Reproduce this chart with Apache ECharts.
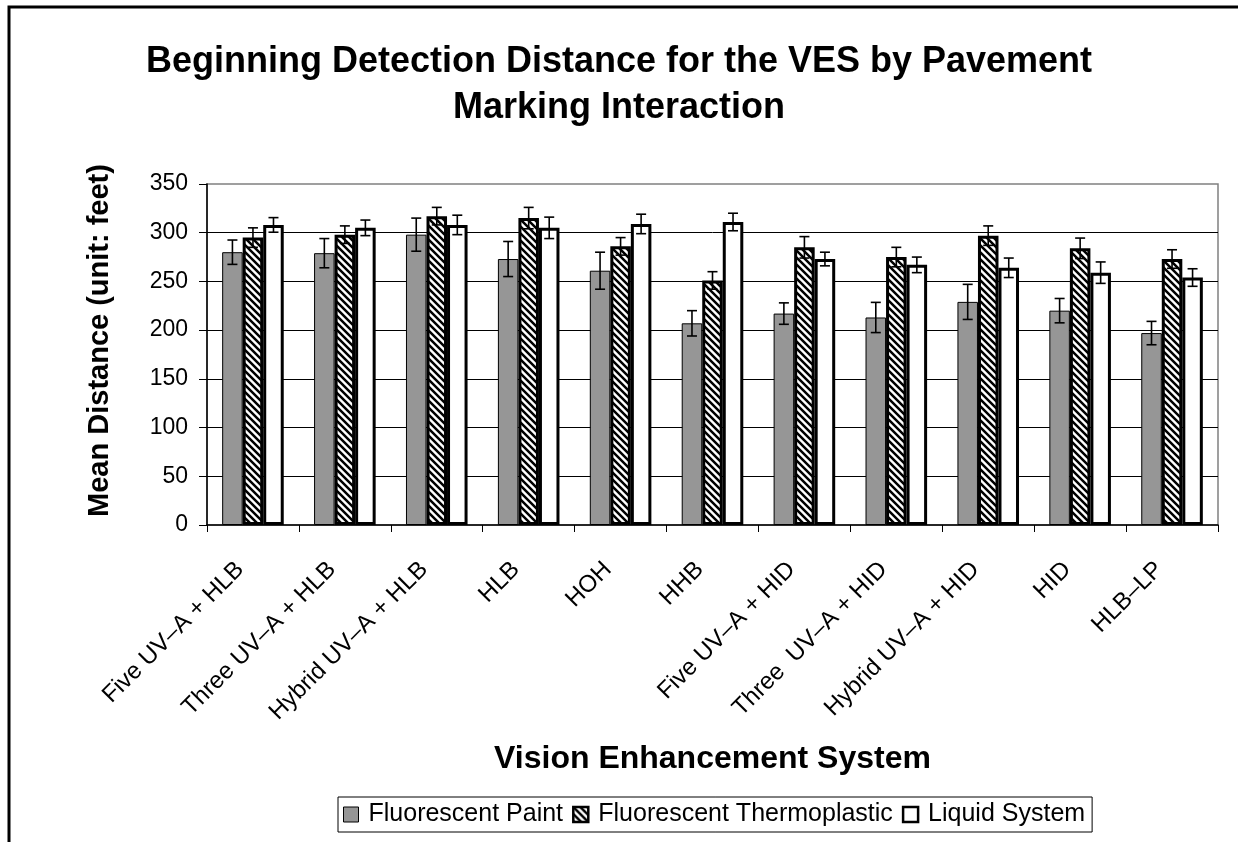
<!DOCTYPE html>
<html>
<head>
<meta charset="utf-8">
<script src="https://cdn.jsdelivr.net/npm/echarts@6/dist/echarts.min.js"></script>
<style>
  html, body { margin: 0; padding: 0; background: #fff; }
  #chart { width: 1238px; height: 842px; }
</style>
</head>
<body>
<div id="chart"></div>
<script>
const categories = [
  'Five UV–A + HLB', 'Three UV–A + HLB', 'Hybrid UV–A + HLB', 'HLB', 'HOH', 'HHB',
  'Five UV–A + HID', 'Three  UV–A + HID', 'Hybrid UV–A + HID', 'HID', 'HLB–LP'
];
const seriesNames = ['Fluorescent Paint', 'Fluorescent Thermoplastic', 'Liquid System'];

// means (feet) and half-length of the error bars
const paint = [280, 279, 298, 273, 261, 207, 217, 213, 229, 220, 197];
const paintErr = [12.5, 15, 17, 18, 19, 13, 11, 15.5, 18, 12.5, 12];
const thermo = [295, 298, 317, 315, 286, 251, 285, 275, 297, 284, 273];
const thermoErr = [10, 9, 9, 11, 9, 9, 11, 10, 10, 10.5, 9.5];
const liquid = [308, 305, 308, 305, 309, 311, 273, 267, 264, 259, 254];
const liquidErr = [7.5, 8, 10, 11, 10, 9, 7, 8, 10, 11, 9];

const yTicks = [0, 50, 100, 150, 200, 250, 300, 350];

const FONT = '"Liberation Sans", Arial, sans-serif';
const GAP = 0.33;

// diagonal hatch ("\") used for the thermoplastic bars
function makeHatch() {
  const s = 7;
  const c = document.createElement('canvas');
  c.width = s; c.height = s;
  const g = c.getContext('2d');
  g.fillStyle = '#fff';
  g.fillRect(0, 0, s, s);
  g.strokeStyle = '#000';
  g.lineWidth = 2.5;
  g.beginPath();
  g.moveTo(-2, -2); g.lineTo(s + 2, s + 2);
  g.moveTo(-2, s - 2); g.lineTo(2, s + 2);
  g.moveTo(s - 2, -2); g.lineTo(s + 2, 2);
  g.stroke();
  return c;
}
const hatch = { image: makeHatch(), repeat: 'repeat' };

const styles = [
  { color: '#969696', borderColor: '#000', borderWidth: 1 },
  { color: hatch, borderColor: '#000', borderWidth: 3 },
  { color: '#fff', borderColor: '#000', borderWidth: 3 },
];

function errorSeries(k, means, errs) {
  return {
    type: 'custom',
    z: 10,
    silent: true,
    data: means.map((v, i) => [i, v, errs[i]]),
    encode: { x: 0, y: 1 },
    renderItem: (params, api) => {
      const band = api.size([1, 0])[0];
      const bw = band * (1 - GAP) / 3;
      const top = api.coord([api.value(0), api.value(1) + api.value(2)]);
      const bot = api.coord([api.value(0), api.value(1) - api.value(2)]);
      const x = top[0] + (k - 1) * bw;
      const cap = 5;
      const st = { stroke: '#000', lineWidth: 1.6 };
      return {
        type: 'group',
        children: [
          { type: 'line', shape: { x1: x, y1: top[1], x2: x, y2: bot[1] }, style: st },
          { type: 'line', shape: { x1: x - cap, y1: top[1], x2: x + cap, y2: top[1] }, style: st },
          { type: 'line', shape: { x1: x - cap, y1: bot[1], x2: x + cap, y2: bot[1] }, style: st },
        ],
      };
    },
  };
}

const chart = echarts.init(document.getElementById('chart'), null, { renderer: 'canvas' });

const barData = [paint, thermo, liquid];
const errData = [paintErr, thermoErr, liquidErr];

chart.setOption({
  backgroundColor: '#fff',
  animation: false,
  textStyle: { fontFamily: FONT, color: '#000' },
  title: {
    text: 'Beginning Detection Distance for the VES by Pavement\nMarking Interaction',
    left: 'center',
    top: 34,
    textStyle: { fontFamily: FONT, fontSize: 36, fontWeight: 'bold', color: '#000', lineHeight: 46 },
  },
  graphic: [{
    type: 'rect',
    shape: { x: 9, y: 7, width: 1400, height: 1000 },
    style: { fill: 'none', stroke: '#000', lineWidth: 3 },
    silent: true,
  }],
  legend: {
    left: 338,
    top: 797,
    orient: 'horizontal',
    data: seriesNames.map((n, i) => ({
      name: n,
      itemStyle: Object.assign({}, styles[i], { borderWidth: i === 0 ? 1 : 2.5 }),
    })),
    icon: 'rect',
    itemWidth: 15,
    itemHeight: 15,
    itemGap: 9,
    padding: [5, 7, 5, 5],
    borderColor: '#000',
    borderWidth: 1,
    textStyle: { fontFamily: FONT, fontSize: 25, color: '#000', padding: [0, 0, 0, 5] },
  },
  grid: {
    left: 207,
    right: 20,
    top: 184,
    bottom: 317,
    show: true,
    borderColor: '#808080',
    borderWidth: 1.5,
    containLabel: false,
  },
  xAxis: {
    type: 'category',
    data: categories,
    name: 'Vision Enhancement System',
    nameLocation: 'middle',
    nameGap: 218,
    nameTextStyle: { fontFamily: FONT, fontSize: 32, fontWeight: 'bold', color: '#000' },
    axisLine: { lineStyle: { color: '#000', width: 1.5 } },
    axisTick: { show: true, alignWithLabel: false, interval: 0, length: 7, lineStyle: { color: '#000' } },
    axisLabel: {
      interval: 0, rotate: 45, margin: 28, fontSize: 24, color: '#000', fontFamily: FONT,
      padding: [0, 18, 0, 0],
    },
    splitLine: { show: false },
  },
  yAxis: {
    type: 'value',
    min: yTicks[0],
    max: yTicks[yTicks.length - 1],
    interval: 50,
    name: 'Mean Distance (unit: feet)',
    nameLocation: 'middle',
    nameGap: 93,
    nameTextStyle: { fontFamily: FONT, fontSize: 29, fontWeight: 'bold', color: '#000', padding: [0, 0, 0, 28] },
    axisLine: { show: true, lineStyle: { color: '#000', width: 1.5 } },
    axisTick: { show: true, inside: false, length: 8, lineStyle: { color: '#000' } },
    axisLabel: { margin: 19, fontSize: 23, color: '#000', fontFamily: FONT },
    splitLine: { show: true, showMinLine: false, showMaxLine: false, lineStyle: { color: '#000', width: 1 } },
  },
  series: [
    ...barData.map((d, i) => ({
      name: seriesNames[i],
      type: 'bar',
      data: d,
      barGap: '0%',
      barCategoryGap: (GAP * 100) + '%',
      itemStyle: styles[i],
      z: 2,
    })),
    ...barData.map((d, i) => errorSeries(i, d, errData[i])),
  ],
});
</script>
</body>
</html>
